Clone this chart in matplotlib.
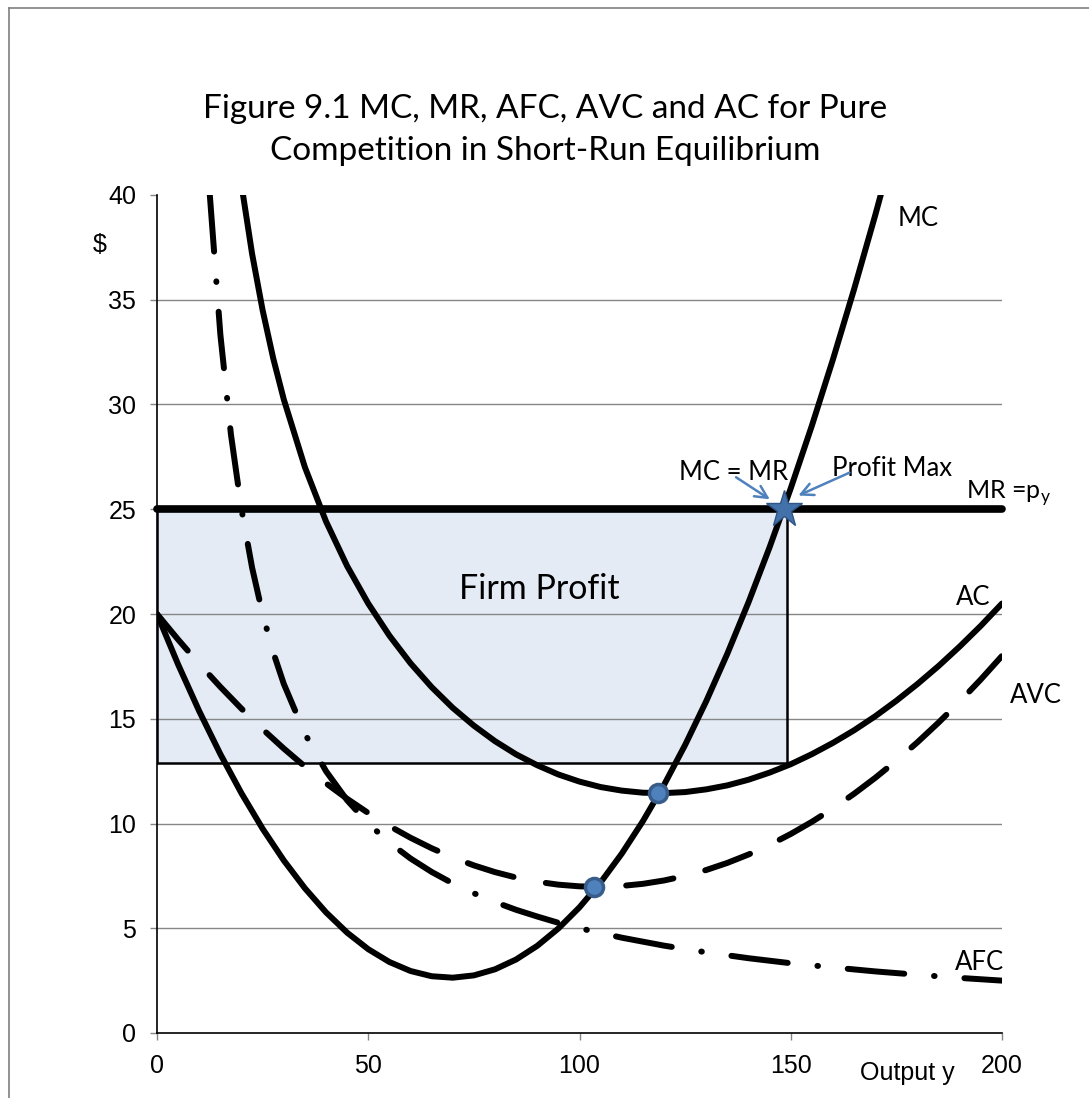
import matplotlib
matplotlib.use('Agg')
import matplotlib.pyplot as plt
from matplotlib.patches import Rectangle
from matplotlib.lines import Line2D

# values
x_mc = [0, 5, 10, 15, 20, 25, 30, 35, 40, 45, 50, 55, 60, 65, 70, 75, 80, 85, 90,
        95, 100, 105, 110, 115, 120, 125, 130, 135, 140, 145, 150, 155, 160, 165,
        170, 175]
mc = [20.0, 17.59, 15.36, 13.31, 11.44, 9.75, 8.24, 6.91, 5.76, 4.79, 4.0, 3.39,
      2.96, 2.71, 2.64, 2.75, 3.04, 3.51, 4.16, 4.99, 6.0, 7.19, 8.56, 10.11,
      11.84, 13.75, 15.84, 18.11, 20.56, 23.19, 26.0, 28.99, 32.16, 35.51, 39.04,
      42.75]

x_avc = [0, 5, 10, 15, 20, 25, 30, 35, 40, 45, 50, 55, 60, 65, 70, 75, 80, 85, 90,
         95, 100, 105, 110, 115, 120, 125, 130, 135, 140, 145, 150, 155, 160, 165,
         170, 175, 180, 185, 190, 195, 200]
avc = [20.0, 18.78, 17.62, 16.52, 15.48, 14.5, 13.58, 12.72, 11.92, 11.18, 10.5,
       9.88, 9.32, 8.82, 8.38, 8.0, 7.68, 7.42, 7.22, 7.08, 7.0, 6.98, 7.02, 7.12,
       7.28, 7.5, 7.78, 8.12, 8.52, 8.98, 9.5, 10.08, 10.72, 11.42, 12.18, 13.0,
       13.88, 14.82, 15.82, 16.88, 18.0]

x_afc = [12.5, 15, 17.5, 20, 22.5, 25, 27.5, 30, 35, 40, 45, 50, 55, 60, 65, 70,
         75, 80, 85, 90, 95, 100, 110, 120, 130, 140, 150, 160, 170, 180, 190, 200]
afc = [40.0, 33.33, 28.57, 25.0, 22.22, 20.0, 18.18, 16.67, 14.29, 12.5, 11.11,
       10.0, 9.09, 8.33, 7.69, 7.14, 6.67, 6.25, 5.88, 5.56, 5.26, 5.0, 4.55, 4.17,
       3.85, 3.57, 3.33, 3.13, 2.94, 2.78, 2.63, 2.5]

x_ac = [20, 22.5, 25, 27.5, 30, 35, 40, 45, 50, 55, 60, 65, 70, 75, 80, 85, 90, 95,
        100, 105, 110, 115, 120, 125, 130, 135, 140, 145, 150, 155, 160, 165, 170,
        175, 180, 185, 190, 195, 200]
ac = [40.48, 37.2, 34.5, 32.21, 30.25, 27.01, 24.42, 22.29, 20.5, 18.97, 17.65,
      16.51, 15.52, 14.67, 13.93, 13.3, 12.78, 12.34, 12.0, 11.74, 11.57, 11.47,
      11.45, 11.5, 11.63, 11.82, 12.09, 12.43, 12.83, 13.31, 13.85, 14.45, 15.12,
      15.86, 16.66, 17.52, 18.45, 19.44, 20.5]

price = 25
q_star = 148.5
profit_x = [0, 149]
profit_y = [12.9, 25]
min_points_x = [103.4, 118.6]
min_points_y = [6.95, 11.46]

title = 'Figure 9.1 MC, MR, AFC, AVC and AC for Pure\nCompetition in Short-Run Equilibrium'
label_font = 'Lato'
axis_font = 'Liberation Sans'

fig = plt.figure(figsize=(10.89, 10.98), dpi=100)
ax = fig.add_axes([157 / 1089, 65 / 1098, 845 / 1089, 838 / 1098])

# outer chart border (left and top only visible)
fig.add_artist(Line2D([9 / 1089, 9 / 1089], [0, 1 - 8 / 1098], color='#7f7f7f', lw=1.2))
fig.add_artist(Line2D([9 / 1089, 1], [1 - 8 / 1098, 1 - 8 / 1098], color='#7f7f7f', lw=1.2))

ax.set_xlim(0, 200)
ax.set_ylim(0, 40)
ax.set_axisbelow(True)

# shaded profit area
ax.add_patch(Rectangle((profit_x[0], profit_y[0]), profit_x[1] - profit_x[0],
                       profit_y[1] - profit_y[0], facecolor='#e4ebf5',
                       edgecolor='none', zorder=0.3))
ax.add_patch(Rectangle((profit_x[0], profit_y[0]), profit_x[1] - profit_x[0],
                       profit_y[1] - profit_y[0], facecolor='none',
                       edgecolor='black', lw=1.8, zorder=2))

for yv in range(5, 40, 5):
    ax.axhline(yv, color='#868686', lw=1.0, zorder=0.5)

lw = 4.3
ax.plot(x_mc, mc, color='black', lw=lw, solid_capstyle='round', zorder=3)
ax.plot(x_ac, ac, color='black', lw=lw, solid_capstyle='round', zorder=3)
ax.plot(x_avc, avc, color='black', lw=lw, ls=(0, (8, 5.5)),
        dash_capstyle='round', zorder=3)
ax.plot(x_afc, afc, color='black', lw=lw, ls=(0, (9.5, 5, 0.1, 5)),
        dash_capstyle='round', zorder=3)
ax.plot([0, 200], [price, price], color='black', lw=5.5,
        solid_capstyle='round', clip_on=False, zorder=3)

ax.plot(min_points_x, min_points_y, ls='none', marker='o', markersize=13,
        markerfacecolor='#4f81bd', markeredgecolor='#385d8a', markeredgewidth=2.5,
        zorder=5)
ax.plot([q_star], [price], marker='*', markersize=28, color='#4372aa',
        markeredgecolor='#2f5584', markeredgewidth=1, zorder=5)

# annotations
arrow = dict(arrowstyle='->', color='#4f81bd', lw=1.8, mutation_scale=22)
ax.annotate('', xy=(145.6, 25.4), xytext=(136.5, 26.6), arrowprops=arrow, zorder=6)
ax.annotate('', xy=(151.2, 25.6), xytext=(164.5, 26.8), arrowprops=arrow, zorder=6)
ax.text(123.6, 26.75, 'MC = MR', fontsize=18.5, family=label_font, va='center', ha='left')
ax.text(159.8, 26.95, 'Profit Max', fontsize=18.5, family=label_font, va='center', ha='left')
ax.text(191.5, 25.75, 'MR =p$_\\mathregular{y}$', fontsize=18, family=label_font,
        va='center', ha='left', clip_on=False)
ax.text(175.4, 38.9, 'MC', fontsize=18.5, family=label_font, va='center', ha='left')
ax.text(197.2, 20.8, 'AC', fontsize=18.5, family=label_font, va='center', ha='right')
ax.text(201.8, 16.1, 'AVC', fontsize=18.5, family=label_font, va='center', ha='left',
        clip_on=False)
ax.text(188.8, 3.35, 'AFC', fontsize=18.5, family=label_font, va='center', ha='left')
ax.text(90.6, 21.2, 'Firm Profit', fontsize=24.5, family=label_font, va='center',
        ha='center')

ax.text(-13.5, 37.6, '$', fontsize=18, family=axis_font, va='center', ha='center',
        clip_on=False)
ax.text(177.7, -1.9, 'Output y', fontsize=18, family=axis_font, va='center',
        ha='center', clip_on=False)

fig.text(545 / 1089, 1 - 130 / 1098, title, fontsize=24, family=label_font,
         ha='center', va='center', linespacing=1.5)

for side in ('top', 'right'):
    ax.spines[side].set_visible(False)
for side in ('left', 'bottom'):
    ax.spines[side].set_linewidth(1.2)
    ax.spines[side].set_color('black')

ax.set_xticks([0, 50, 100, 150, 200])
ax.set_yticks(range(0, 45, 5))
ax.tick_params(axis='both', direction='out', length=5, width=1, color='#868686',
               labelsize=18, pad=10)
for lab in ax.get_xticklabels() + ax.get_yticklabels():
    lab.set_family(axis_font)

fig.savefig('out.png', dpi=100)
